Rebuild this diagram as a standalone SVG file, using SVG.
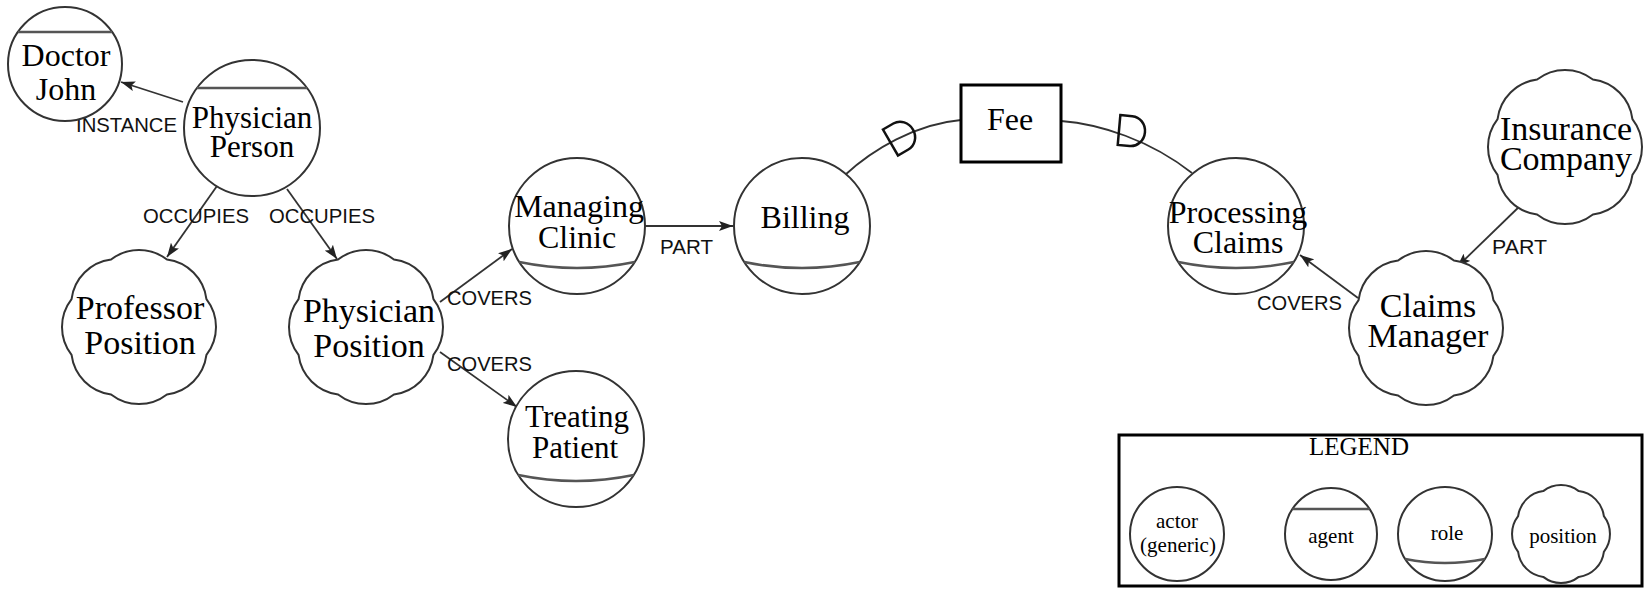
<svg xmlns="http://www.w3.org/2000/svg" width="1651" height="589" viewBox="0 0 1651 589">
  <style>
    .shape { fill: #fff; stroke: #333; stroke-width: 2; }
    .band { fill: none; stroke: #555; stroke-width: 2.5; }
    .nt { font-family: "Liberation Serif", "Times New Roman", serif; fill: #000; text-anchor: middle; }
    .el { font-family: "Liberation Sans", Arial, sans-serif; font-size: 21px; fill: #111; }
    .link { fill: none; stroke: #333; stroke-width: 1.8; }
    .dep { fill: none; stroke: #111; stroke-width: 2.5; }
    .box { fill: #fff; stroke: #000; stroke-width: 3; }
    .lg { font-size: 21px; }
  </style>
  <defs>
    <marker id="arrow" viewBox="0 0 14 10" refX="14" refY="5" markerWidth="14" markerHeight="10" markerUnits="userSpaceOnUse" orient="auto">
      <path d="M0,0 L14,5 L0,10 L3,5 Z" fill="#222"/>
    </marker>
    <!-- position outline: eight shallow lobes, outer radius 77 -->
    <path id="pos" d="M 67.44,-27.94 A 45.6 45.6 0 0 1 67.44,27.94 A 45.6 45.6 0 0 1 27.94,67.44 A 45.6 45.6 0 0 1 -27.94,67.44 A 45.6 45.6 0 0 1 -67.44,27.94 A 45.6 45.6 0 0 1 -67.44,-27.94 A 45.6 45.6 0 0 1 -27.94,-67.44 A 45.6 45.6 0 0 1 27.94,-67.44 A 45.6 45.6 0 0 1 67.44,-27.94 Z"/>
    <!-- same outline at outer radius 49 for the legend -->
    <path id="pos-small" d="M 42.89,-17.77 A 29 29 0 0 1 42.89,17.77 A 29 29 0 0 1 17.77,42.89 A 29 29 0 0 1 -17.77,42.89 A 29 29 0 0 1 -42.89,17.77 A 29 29 0 0 1 -42.89,-17.77 A 29 29 0 0 1 -17.77,-42.89 A 29 29 0 0 1 17.77,-42.89 A 29 29 0 0 1 42.89,-17.77 Z"/>
    <!-- dependency "D" symbol, bulge toward +x -->
    <path id="dsym" d="M -11,-15 L 1,-15 A 14 15 0 0 1 1,15 L -11,15 Z"/>
  </defs>

  <!-- connectors -->
  <g id="connectors">
    <line class="link" x1="183" y1="102" x2="121" y2="82" marker-end="url(#arrow)"/>
    <line class="link" x1="217" y1="186" x2="167" y2="257" marker-end="url(#arrow)"/>
    <line class="link" x1="287" y1="189" x2="337" y2="259" marker-end="url(#arrow)"/>
    <line class="link" x1="440" y1="302" x2="512" y2="249" marker-end="url(#arrow)"/>
    <line class="link" x1="440" y1="352" x2="517" y2="407" marker-end="url(#arrow)"/>
    <line class="link" x1="645" y1="226" x2="733" y2="226" marker-end="url(#arrow)"/>
    <line class="link" x1="1523" y1="203" x2="1457" y2="267" marker-end="url(#arrow)"/>
    <line class="link" x1="1358" y1="298" x2="1300" y2="255" marker-end="url(#arrow)"/>
    <path class="link" d="M845,175 C872,150 915,124 961,120"/>
    <path class="link" d="M1061,121 C1100,124 1150,140 1192,173"/>
    <use href="#dsym" class="dep" transform="translate(900,137) rotate(-30)"/>
    <use href="#dsym" class="dep" transform="translate(1130,131) rotate(5)"/>
    <text class="el" x="76" y="132" textLength="101" lengthAdjust="spacingAndGlyphs">INSTANCE</text>
    <text class="el" x="143" y="223" textLength="106" lengthAdjust="spacingAndGlyphs">OCCUPIES</text>
    <text class="el" x="269" y="223" textLength="106" lengthAdjust="spacingAndGlyphs">OCCUPIES</text>
    <text class="el" x="447" y="305" textLength="85" lengthAdjust="spacingAndGlyphs">COVERS</text>
    <text class="el" x="447" y="371" textLength="85" lengthAdjust="spacingAndGlyphs">COVERS</text>
    <text class="el" x="660" y="254" textLength="53" lengthAdjust="spacingAndGlyphs">PART</text>
    <text class="el" x="1492" y="254" textLength="55" lengthAdjust="spacingAndGlyphs">PART</text>
    <text class="el" x="1257" y="310" textLength="85" lengthAdjust="spacingAndGlyphs">COVERS</text>
  </g>

  <!-- agents -->
  <g id="doctor-john">
    <circle class="shape" cx="65" cy="64" r="57"/>
    <line class="band" x1="18" y1="32" x2="112" y2="32"/>
    <text class="nt" font-size="32" x="66" y="66">Doctor</text>
    <text class="nt" font-size="32" x="66" y="100">John</text>
  </g>
  <g id="physician-person">
    <circle class="shape" cx="252" cy="128" r="68"/>
    <line class="band" x1="197" y1="88" x2="307" y2="88"/>
    <text class="nt" font-size="31" x="252" y="128">Physician</text>
    <text class="nt" font-size="31" x="252" y="157">Person</text>
  </g>

  <!-- positions -->
  <g id="professor-position">
    <use href="#pos" class="shape" transform="translate(139,327)"/>
    <text class="nt" font-size="34" x="140" y="319">Professor</text>
    <text class="nt" font-size="34" x="140" y="354">Position</text>
  </g>
  <g id="physician-position">
    <use href="#pos" class="shape" transform="translate(366,327)"/>
    <text class="nt" font-size="34" x="369" y="322">Physician</text>
    <text class="nt" font-size="34" x="369" y="357">Position</text>
  </g>
  <g id="insurance-company">
    <use href="#pos" class="shape" transform="translate(1565,147)"/>
    <text class="nt" font-size="34" x="1566" y="140">Insurance</text>
    <text class="nt" font-size="34" x="1566" y="170">Company</text>
  </g>
  <g id="claims-manager">
    <use href="#pos" class="shape" transform="translate(1426,328)"/>
    <text class="nt" font-size="34" x="1428" y="317">Claims</text>
    <text class="nt" font-size="34" x="1428" y="347">Manager</text>
  </g>

  <!-- roles -->
  <g id="managing-clinic">
    <circle class="shape" cx="577" cy="226" r="68"/>
    <path class="band" d="M519.3,262 Q577,274 634.7,262"/>
    <text class="nt" font-size="32" x="579" y="217">Managing</text>
    <text class="nt" font-size="32" x="577" y="248">Clinic</text>
  </g>
  <g id="billing">
    <circle class="shape" cx="802" cy="226" r="68"/>
    <path class="band" d="M744.3,262 Q802,274 859.7,262"/>
    <text class="nt" font-size="32" x="805" y="228">Billing</text>
  </g>
  <g id="treating-patient">
    <circle class="shape" cx="576" cy="439" r="68"/>
    <path class="band" d="M518.3,475 Q576,487 633.7,475"/>
    <text class="nt" font-size="31" x="577" y="427">Treating</text>
    <text class="nt" font-size="31" x="575" y="458">Patient</text>
  </g>
  <g id="processing-claims">
    <circle class="shape" cx="1236" cy="226" r="68"/>
    <path class="band" d="M1178.3,262 Q1236,274 1293.7,262"/>
    <text class="nt" font-size="32" x="1238" y="223">Processing</text>
    <text class="nt" font-size="32" x="1238" y="253">Claims</text>
  </g>

  <!-- resource -->
  <g id="fee">
    <rect class="box" x="961" y="85" width="100" height="77"/>
    <text class="nt" font-size="32" x="1010" y="130">Fee</text>
  </g>

  <!-- legend -->
  <g id="legend">
    <rect class="box" x="1119" y="435" width="523" height="151"/>
    <text class="nt" font-size="25" x="1359" y="455">LEGEND</text>
    <circle class="shape" cx="1177" cy="534" r="47"/>
    <text class="nt lg" x="1177" y="528">actor</text>
    <text class="nt lg" x="1178" y="552">(generic)</text>
    <circle class="shape" cx="1331" cy="534" r="46"/>
    <line class="band" x1="1292.4" y1="509" x2="1369.6" y2="509"/>
    <text class="nt lg" x="1331" y="543">agent</text>
    <circle class="shape" cx="1445" cy="534" r="47"/>
    <path class="band" d="M1405.2,559 Q1445,567 1484.8,559"/>
    <text class="nt lg" x="1447" y="540">role</text>
    <use href="#pos-small" class="shape" transform="translate(1561,534)"/>
    <text class="nt lg" x="1563" y="543">position</text>
  </g>
</svg>
